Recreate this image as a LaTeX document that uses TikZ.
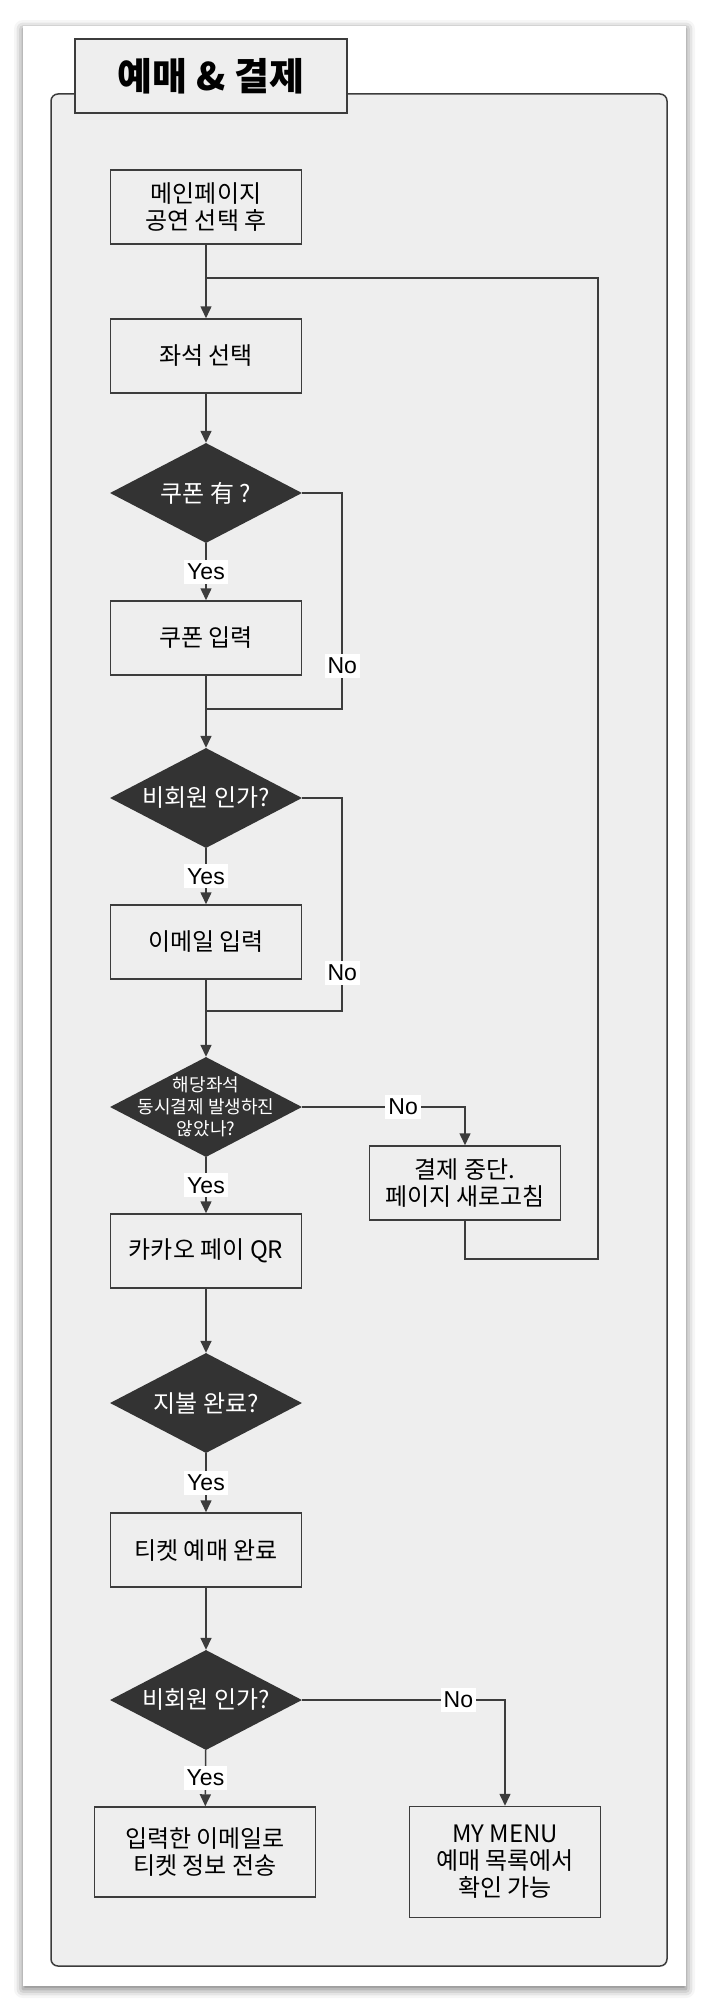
\documentclass[tikz,border=0pt]{standalone}
\usepackage{fontspec}
\setmainfont{Liberation Sans}
\newfontfamily\kr{Noto Sans CJK KR}
\usetikzlibrary{shapes.geometric,arrows.meta,shadows.blur}
\definecolor{lc}{HTML}{3C3C3C}
\definecolor{bg}{HTML}{EEEEEE}
\definecolor{dk}{HTML}{333333}
\begin{document}
\begin{tikzpicture}[x=1pt,y=-1pt,
  >={Triangle[length=12pt,width=11pt]},
  line/.style={draw=lc,line width=1.5pt},
  arr/.style={line,->},
  proc/.style={draw=lc,fill=bg,line width=1.5pt,minimum width=191pt,minimum height=74pt,
    align=center,inner sep=2pt,font=\kr\fontsize{24}{27}\selectfont},
  ask/.style={diamond,fill=dk,minimum width=192pt,minimum height=100pt,inner sep=0pt},
  asktext/.style={text=white,align=center,font=\kr\fontsize{24}{27}\selectfont},
  lbl/.style={fill=white,inner xsep=3pt,inner ysep=4pt,font=\fontsize{23}{23}\selectfont}]
\useasboundingbox (0,0) rectangle (708,2012);
\fill[white,blur shadow={shadow blur radius=9pt,shadow xshift=0pt,shadow yshift=-3pt,shadow opacity=55}]
  (23,26) rectangle (686,1986);
\draw[line,fill=bg,rounded corners=7pt] (51,94) rectangle (667,1966);
\node[draw=lc,fill=bg,line width=1.5pt,minimum width=272pt,minimum height=74pt,
  font=\kr\bfseries\fontsize{38}{38}\selectfont] (title) at (211,76) {예매 \& 결제};

\node[proc] (b1) at (206,207) {메인페이지\\공연 선택 후};
\node[proc] (b2) at (206,356) {좌석 선택};
\node[ask,label={[asktext]center:쿠폰 有 ?}] (d1) at (206,493) {};
\node[proc] (b3) at (206,638) {쿠폰 입력};
\node[ask,label={[asktext]center:비회원 인가?}] (d2) at (206,798) {};
\node[proc] (b4) at (206,942) {이메일 입력};
\node[ask,label={[asktext,font=\kr\fontsize{18}{22}\selectfont]center:{해당좌석\\동시결제 발생하진\\않았나?}}] (d3) at (206,1107) {};
\node[proc] (b5) at (465,1183) {결제 중단.\\페이지 새로고침};
\node[proc] (b6) at (206,1251) {카카오 페이 QR};
\node[ask,label={[asktext]center:지불 완료?}] (d4) at (206,1403) {};
\node[proc] (b7) at (206,1550) {티켓 예매 완료};
\node[ask,label={[asktext]center:비회원 인가?}] (d5) at (206,1700) {};
\node[proc,minimum width=221pt,minimum height=90pt] (b8) at (205,1852) {입력한 이메일로\\티켓 정보 전송};
\node[proc,minimum height=111pt] (b9) at (505,1862) {MY MENU\\예매 목록에서\\확인 가능};

\coordinate (jn) at (206,278);
\coordinate (rt) at (598,1259);
\coordinate (m1) at (206,709);
\coordinate (m2) at (206,1011);

\draw[arr] (b1) -- (b2);
\draw[line] (b5.south) |- (rt) |- (jn);
\draw[arr] (b2) -- (d1);
\draw[arr] (d1) -- node[lbl]{Yes} (b3);
\draw[line] (d1.east) -- ++(40,0) |- node[lbl,pos=.4]{No} (m1);
\draw[arr] (b3) -- (d2);
\draw[arr] (d2) -- node[lbl]{Yes} (b4);
\draw[line] (d2.east) -- ++(40,0) |- node[lbl,pos=.41]{No} (m2);
\draw[arr] (b4) -- (d3);
\draw[arr] (d3) -- node[lbl]{Yes} (b6);
\draw[arr] (d3.east) -| node[lbl,pos=.31]{No} (b5);
\draw[arr] (b6) -- (d4);
\draw[arr] (d4) -- node[lbl]{Yes} (b7);
\draw[arr] (b7) -- (d5);
\draw[arr] (d5) -- node[lbl]{Yes} (b8);
\draw[arr] (d5.east) -| node[lbl,pos=.385]{No} (b9);
\end{tikzpicture}
\end{document}
